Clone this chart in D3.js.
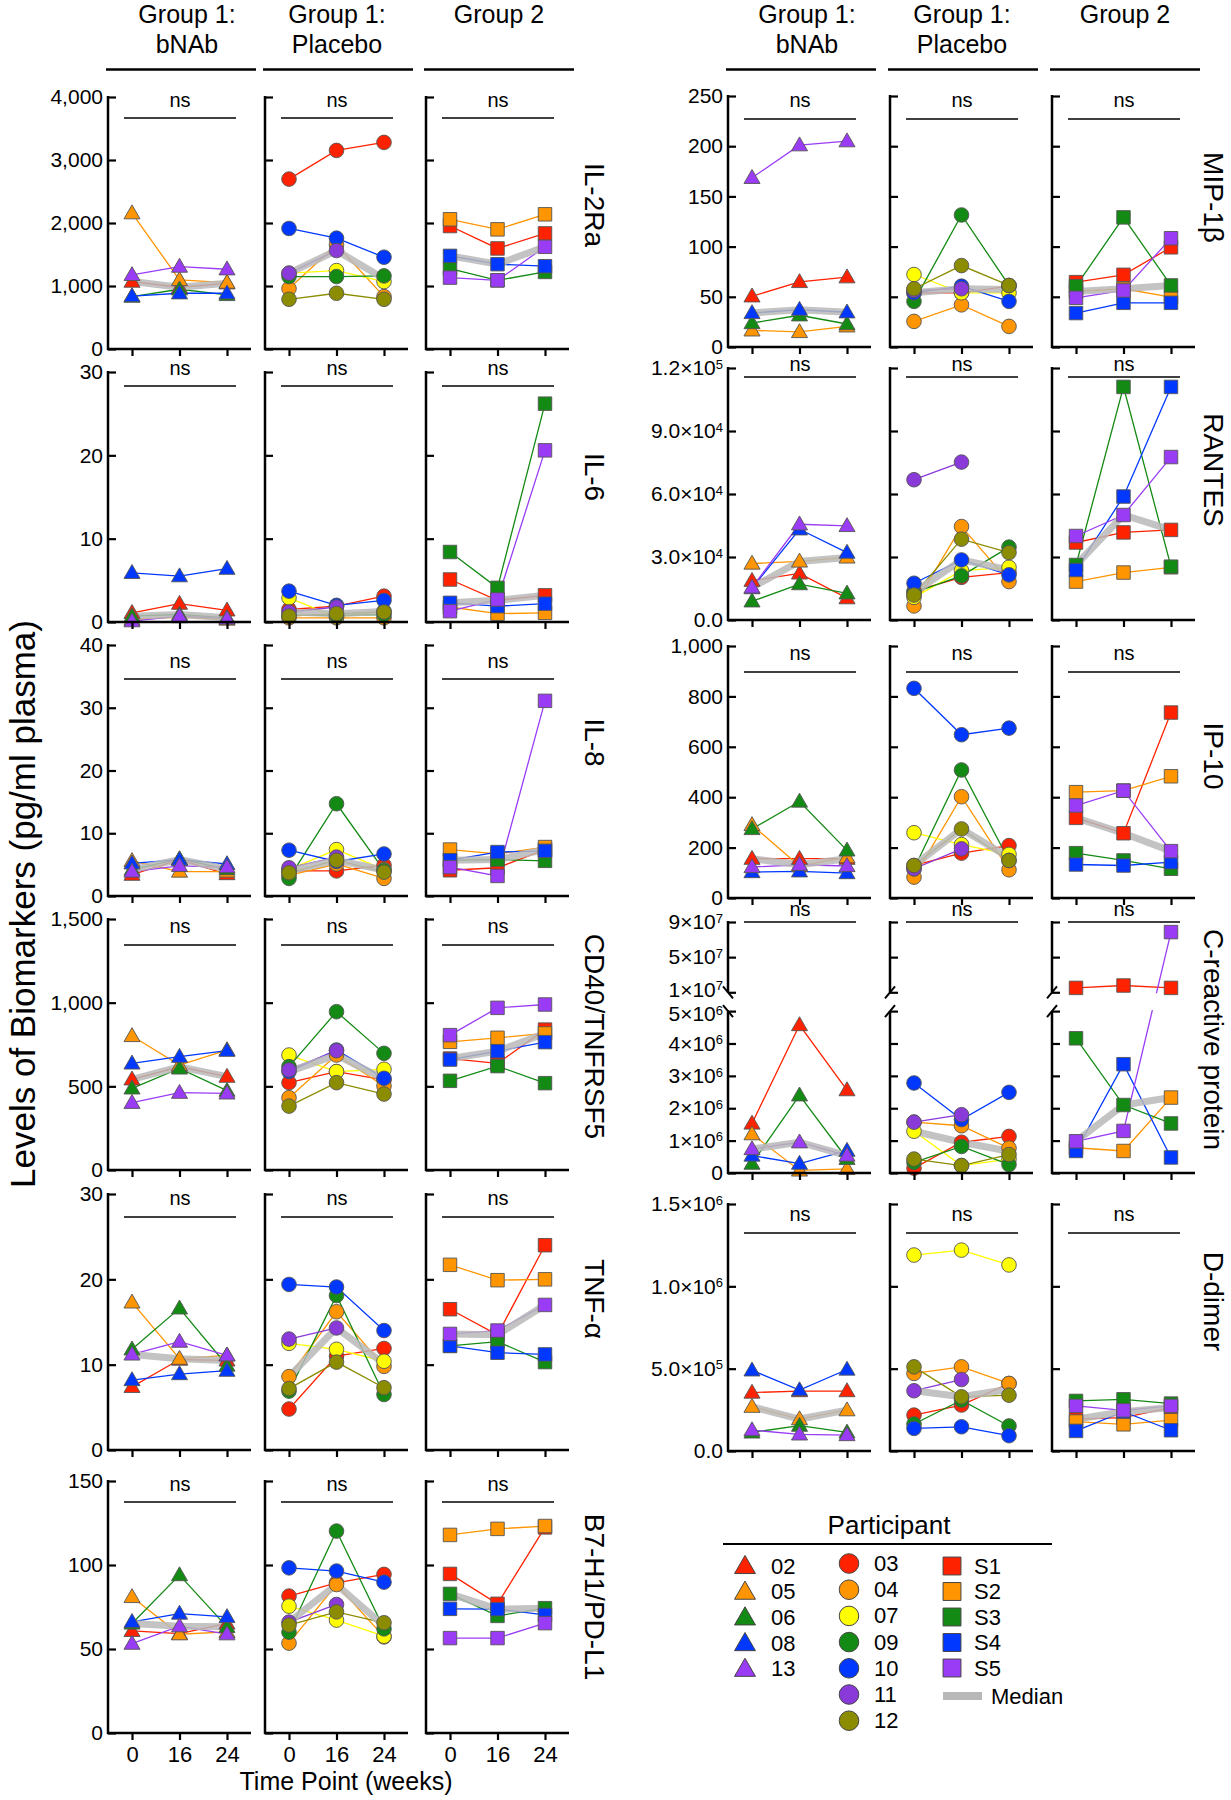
<!DOCTYPE html>
<html><head><meta charset="utf-8">
<script src="https://cdnjs.cloudflare.com/ajax/libs/d3/7.8.5/d3.min.js"></script>
<style>
body{margin:0;background:#fff}
text{font-family:"Liberation Sans",Arial,Helvetica,sans-serif;fill:#000}
</style>
</head><body>
<svg id="chart" width="1231" height="1800"></svg>
<script>
// ---------------- DATA ----------------
const timePoints = [0, 16, 24];
const groupTitles = [["Group 1:", "bNAb"], ["Group 1:", "Placebo"], ["Group 2"]];
const bnabIds = ["02", "05", "06", "08", "13"];
const placeboIds = ["03", "04", "07", "09", "10", "11", "12"];
const group2Ids = ["S1", "S2", "S3", "S4", "S5"];
const participantColors = {
  "02": "#ff2200", "05": "#ff9500", "06": "#138a13", "08": "#0038ff", "13": "#9a3cf5",
  "03": "#ff2200", "04": "#ff9500", "07": "#ffff00", "09": "#138a13", "10": "#0038ff", "11": "#8a3ad8", "12": "#8c8c00",
  "S1": "#ff2200", "S2": "#ff9500", "S3": "#138a13", "S4": "#0038ff", "S5": "#9a3cf5"
};
const biomarkerNames = ["IL-2Ra", "IL-6", "IL-8", "CD40/TNFRSF5", "TNF-\u03b1", "B7-H1/PD-L1",
  "MIP-1\u03b2", "RANTES", "IP-10", "C-reactive protein", "D-dimer"];

// values per participant at weeks 0,16,24 (order of the id lists above)
const il2raBnab = [[1070, 980, 1043], [2156, 1097, 1054], [832, 948, 858], [840, 885, 885], [1176, 1308, 1266]];
const il2raPlacebo = [[2697, 3152, 3279], [959, 1653, 832], [1203, 1245, 1070], [1150, 1150, 1160], [1913, 1759, 1457], [1203, 1563, null], [789, 885, 789]];
const il2raGroup2 = [[1952, 1596, 1835], [2059, 1899, 2138], [1276, 1090, 1223], [1478, 1346, 1314], [1133, 1090, 1622]];

const il6Bnab = [[1.1, 2.2, 1.4], [0.3, 0.6, 0.3], [0.7, 0.9, 0.5], [5.9, 5.5, 6.4], [0.1, 0.7, 0.4]];
const il6Placebo = [[1.5, 1.9, 3.1], [0.5, 0.5, 0.5], [2.9, 0.6, 1.3], [0.8, 0.8, 0.9], [3.7, 2.0, 2.6], [1.2, 1.8, null], [0.7, 1.0, 1.2]];
const il6Group2 = [[5.1, 2.6, 3.2], [1.8, 1.0, 1.1], [8.4, 4.1, 26.2], [2.3, 1.9, 2.2], [1.3, 2.7, 20.6]];

const il8Bnab = [[3.4, 5.8, 3.5], [5.6, 3.9, 3.9], [4.2, 5.9, 4.3], [5.2, 5.8, 5.1], [3.9, 4.8, 4.6]];
const il8Placebo = [[4.0, 4.0, 4.9], [3.3, 5.1, 2.8], [4.2, 7.4, 4.2], [2.8, 14.7, 4.1], [7.3, 5.5, 6.7], [4.5, 6.2, null], [3.7, 5.7, 3.8]];
const il8Group2 = [[4.1, 4.5, 7.4], [7.4, 6.7, 7.8], [5.7, 5.8, 5.6], [5.7, 7.0, 7.2], [4.6, 3.2, 31.1]];

const cd40Bnab = [[542, 617, 558], [801, 627, 717], [488, 607, 474], [637, 677, 713], [402, 462, 458]];
const cd40Placebo = [[522, 588, 538], [432, 687, 502], [687, 588, 602], [618, 946, 697], [588, 717, 548], [598, 713, null], [382, 522, 454]];
const cd40Group2 = [[666, 637, 839], [766, 790, 816], [533, 621, 519], [660, 710, 764], [806, 969, 989]];

const tnfBnab = [[7.4, 10.6, 10.5], [17.3, 10.7, 11.1], [11.8, 16.6, 9.9], [8.2, 8.9, 9.3], [11.2, 12.7, 11.1]];
const tnfPlacebo = [[4.8, 11.0, 11.9], [8.6, 16.2, 9.8], [12.5, 11.8, 10.4], [6.9, 18.1, 6.5], [19.4, 19.1, 14.0], [13.0, 14.3, null], [7.2, 10.3, 7.3]];
const tnfGroup2 = [[16.5, 13.5, 24.0], [21.7, 19.9, 20.0], [12.2, 12.7, 10.3], [12.2, 11.4, 11.2], [13.6, 14.0, 17.0]];

const b7Bnab = [[60.8, 59.2, 65.2], [81, 58.8, 60.2], [65.2, 94, 63.2], [66.2, 71.1, 69.1], [53.2, 63.6, 58.8]];
const b7Placebo = [[81.5, 89.4, 94.4], [53.5, 88.4, 57.2], [75.5, 67.2, 57.6], [60, 120.2, 62], [98.3, 96.4, 89.8], [66, 76.5, null], [64.2, 72.1, 65.6]];
const b7Group2 = [[94.7, 76.9, 122.4], [117.9, 121.5, 123.2], [82.8, 69.7, 74.3], [73.9, 73.7, 70.3], [56.5, 56.5, 65.4]];

const mipBnab = [[50.5, 64.8, 69.5], [16.6, 15, 20.6], [23.9, 31.6, 22.9], [33.9, 37.2, 34.6], [168.5, 201, 205]];
const mipPlacebo = [[54, 54, 60.6], [25.5, 42, 20.5], [72.2, 54, 54], [45.4, 131.5, 61.3], [54, 60.6, 45.4], [56.3, 58, null], [58, 81.1, 61.3]];
const mipGroup2 = [[64.6, 71.9, 99.3], [55.3, 58, 49.7], [60.6, 129.1, 61.3], [33.8, 44, 44], [49, 56.3, 108.3]];

const rantesBnab = [[18700, 22200, 10400], [26900, 27900, 29800], [8900, 17100, 12700], [15200, 43200, 32100], [15500, 45600, 44800]];
const rantesPlacebo = [[13700, 20300, 22600], [6700, 44500, 18300], [10800, 23500, 25100], [13000, 21000, 34700], [17500, 28600, 21500], [66800, 75200, null], [11900, 38500, 32100]];
const rantesGroup2 = [[36900, 41700, 42900], [18300, 22600, 25100], [26200, 111000, 25400], [23800, 58800, 111000], [40000, 50000, 77600]];

const ip10Bnab = [[156, 156, 156], [290, 127, 162], [274, 383, 189], [103, 106, 99], [123, 132, 127]];
const ip10Placebo = [[129, 178, 208], [83, 402, 112], [259, 212, 173], [116, 508, 149], [832, 648, 674], [116, 195, null], [129, 274, 149]];
const ip10Group2 = [[318, 257, 736], [420, 426, 483], [178, 149, 116], [133, 129, 142], [367, 426, 186]];

const crpBnab = [[1.53e6, 4.57e6, 2.56e6], [1.2e6, 0.08e6, 0.13e6], [0.29e6, 2.4e6, 0.44e6], [0.54e6, 0.29e6, 0.69e6], [0.74e6, 0.95e6, 0.54e6]];
const crpPlacebo = [[0.15e6, 0.95e6, 1.13e6], [1.57e6, 1.46e6, 0.77e6], [1.29e6, 0.23e6, 0.43e6], [0.33e6, 0.82e6, 0.26e6], [2.78e6, 1.65e6, 2.49e6], [1.57e6, 1.8e6, null], [0.43e6, 0.23e6, 0.57e6]];
const crpGroup2 = [[1.5e7, 1.77e7, 1.5e7], [0.78e6, 0.68e6, 2.33e6], [4.16e6, 2.1e6, 1.53e6], [0.68e6, 3.36e6, 0.48e6], [0.98e6, 1.3e6, 7.85e7]];

const ddimerBnab = [[3.55e5, 3.64e5, 3.64e5], [2.69e5, 1.94e5, 2.48e5], [1.13e5, 1.54e5, 1.13e5], [4.9e5, 3.7e5, 4.95e5], [1.27e5, 1.01e5, 0.97e5]];
const ddimerPlacebo = [[2.18e5, 2.79e5, 4.1e5], [4.71e5, 5.11e5, 4.1e5], [1.19e6, 1.22e6, 1.13e6], [1.64e5, 3.09e5, 1.52e5], [1.37e5, 1.47e5, 0.93e5], [3.66e5, 4.34e5, null], [5.11e5, 3.29e5, 3.39e5]];
const ddimerGroup2 = [[1.93e5, 2.03e5, 2.64e5], [1.79e5, 1.62e5, 1.87e5], [3.04e5, 3.14e5, 2.88e5], [1.22e5, 2.39e5, 1.26e5], [2.74e5, 2.47e5, 2.74e5]];

// tick values and labels
const il2raTicks = [0, 1000, 2000, 3000, 4000];
const il2raTickLabels = ["0", "1,000", "2,000", "3,000", "4,000"];
const il6Ticks = [0, 10, 20, 30];
const il6TickLabels = ["0", "10", "20", "30"];
const il8Ticks = [0, 10, 20, 30, 40];
const il8TickLabels = ["0", "10", "20", "30", "40"];
const cd40Ticks = [0, 500, 1000, 1500];
const cd40TickLabels = ["0", "500", "1,000", "1,500"];
const tnfTicks = [0, 10, 20, 30];
const tnfTickLabels = ["0", "10", "20", "30"];
const b7Ticks = [0, 50, 100, 150];
const b7TickLabels = ["0", "50", "100", "150"];
const mipTicks = [0, 50, 100, 150, 200, 250];
const mipTickLabels = ["0", "50", "100", "150", "200", "250"];
const rantesTicks = [0, 30000, 60000, 90000, 120000];
const rantesTickLabels = ["0.0", "3.0\u00d710^4", "6.0\u00d710^4", "9.0\u00d710^4", "1.2\u00d710^5"];
const ip10Ticks = [0, 200, 400, 600, 800, 1000];
const ip10TickLabels = ["0", "200", "400", "600", "800", "1,000"];
const crpTicks = [0, 1e6, 2e6, 3e6, 4e6, 5e6, 1e7, 5e7, 9e7];
const crpTickLabels = ["0", "1\u00d710^6", "2\u00d710^6", "3\u00d710^6", "4\u00d710^6", "5\u00d710^6", "1\u00d710^7", "5\u00d710^7", "9\u00d710^7"];
const crpBreak = [5e6, 1e7];
const ddimerTicks = [0, 5e5, 1e6, 1.5e6];
const ddimerTickLabels = ["0.0", "5.0\u00d710^5", "1.0\u00d710^6", "1.5\u00d710^6"];
const timeTickLabels = ["0", "16", "24"];

// ---------------- LAYOUT ----------------
const leftAxisX = [108, 265, 426];
const rightAxisX = [728, 890, 1052];
const panelW = 143;
const tickStart = 24, tickEnd = 119;
const crpFrac = [0.645, 0.72];
const breakLabelShift = [3, -3]; // nudge of the two labels either side of the axis break

const rows = [
  { col: "L", top: 97, bottom: 349, data: [il2raBnab, il2raPlacebo, il2raGroup2], ticks: il2raTicks, labels: il2raTickLabels, ns: 21, nsGap: 11, labelDy: -18 },
  { col: "L", top: 372, bottom: 622, data: [il6Bnab, il6Placebo, il6Group2], ticks: il6Ticks, labels: il6TickLabels, ns: 14, nsGap: 11, labelDy: -20 },
  { col: "L", top: 645, bottom: 896, data: [il8Bnab, il8Placebo, il8Group2], ticks: il8Ticks, labels: il8TickLabels, ns: 34, nsGap: 11, labelDy: -28 },
  { col: "L", top: 919, bottom: 1170, data: [cd40Bnab, cd40Placebo, cd40Group2], ticks: cd40Ticks, labels: cd40TickLabels, ns: 26, nsGap: 12, labelDy: -8 },
  { col: "L", top: 1194, bottom: 1450, data: [tnfBnab, tnfPlacebo, tnfGroup2], ticks: tnfTicks, labels: tnfTickLabels, ns: 23, nsGap: 12, labelDy: -23 },
  { col: "L", top: 1481, bottom: 1733, data: [b7Bnab, b7Placebo, b7Group2], ticks: b7Ticks, labels: b7TickLabels, ns: 21, nsGap: 11, labelDy: -10, xLabels: true },
  { col: "R", top: 96, bottom: 347, data: [mipBnab, mipPlacebo, mipGroup2], ticks: mipTicks, labels: mipTickLabels, ns: 23, nsGap: 12, labelDy: -24 },
  { col: "R", top: 368, bottom: 620, data: [rantesBnab, rantesPlacebo, rantesGroup2], ticks: rantesTicks, labels: rantesTickLabels, ns: 9, nsGap: 6, labelDy: -24 },
  { col: "R", top: 646, bottom: 898, data: [ip10Bnab, ip10Placebo, ip10Group2], ticks: ip10Ticks, labels: ip10TickLabels, ns: 26, nsGap: 12, labelDy: -16 },
  { col: "R", top: 922, bottom: 1173, data: [crpBnab, crpPlacebo, crpGroup2], ticks: crpTicks, labels: crpTickLabels, ns: 0, nsGap: 6, labelDy: -8, breakAt: crpBreak },
  { col: "R", top: 1204, bottom: 1451, data: [ddimerBnab, ddimerPlacebo, ddimerGroup2], ticks: ddimerTicks, labels: ddimerTickLabels, ns: 29, nsGap: 12, labelDy: -26 }
];

const groupIds = [bnabIds, placeboIds, group2Ids];
const groupShapes = [d3.symbolTriangle, d3.symbolCircle, d3.symbolSquare];
const markerSizes = [112, 168, 182];

const svg = d3.select("#chart");

function setLabel(textSel, str) {
  textSel.text(null);
  const parts = str.split("^");
  textSel.append("tspan").text(parts[0]);
  if (parts.length > 1) {
    textSel.append("tspan").attr("font-size", 13).attr("dy", "-0.5em").text(parts[1]);
  }
}

// ---------------- HEADERS ----------------
const headerDx = [6, -1, 0];
[leftAxisX, rightAxisX].forEach(axes => {
  axes.forEach((x0, gi) => {
    const cx = x0 + 73 + headerDx[gi];
    groupTitles[gi].forEach((t, li) => {
      svg.append("text").attr("x", cx).attr("y", li === 0 ? 23 : 53)
        .attr("text-anchor", "middle").attr("font-size", 25).text(t);
    });
    svg.append("line").attr("x1", x0 - 2).attr("x2", x0 + 148).attr("y1", 69.5).attr("y2", 69.5)
      .attr("stroke", "#000").attr("stroke-width", 2.5);
  });
});

// ---------------- PANELS ----------------
rows.forEach((row, ri) => {
  const axes = row.col === "L" ? leftAxisX : rightAxisX;
  const maxV = row.ticks[row.ticks.length - 1];
  let y;
  if (row.breakAt) {
    const h = row.bottom - row.top;
    y = d3.scaleLinear().domain([0, row.breakAt[0], row.breakAt[1], maxV])
      .range([row.bottom, row.bottom - h * crpFrac[0], row.bottom - h * crpFrac[1], row.top]);
  } else {
    y = d3.scaleLinear().domain([0, maxV]).range([row.bottom, row.top]);
  }

  axes.forEach((x0, gi) => {
    const g = svg.append("g");
    const x = d3.scalePoint().domain(timePoints).range([x0 + tickStart, x0 + tickEnd]);
    const series = row.data[gi];
    const ids = groupIds[gi];
    const line = d3.line().defined(d => d.v != null).x(d => x(d.t)).y(d => y(d.v));

    // participant lines
    series.forEach((vals, pi) => {
      const pts = vals.map((v, ti) => ({ t: timePoints[ti], v: v }));
      g.append("path").attr("d", line(pts)).attr("fill", "none")
        .attr("stroke", participantColors[ids[pi]]).attr("stroke-width", 1.3);
    });
    // median
    const med = timePoints.map((t, ti) => ({ t: t, v: d3.median(series, s => s[ti]) }));
    g.append("path").attr("d", line(med)).attr("fill", "none")
      .attr("stroke", "#b8b8b8").attr("stroke-width", 7).attr("stroke-opacity", 0.85);

    // break mask
    if (row.breakAt) {
      const yb1 = y(row.breakAt[1]), yb0 = y(row.breakAt[0]);
      g.append("rect").attr("x", x0 + 2).attr("width", panelW).attr("y", yb1 + 1)
        .attr("height", yb0 - yb1 - 2).attr("fill", "#fff");
    }

    // markers
    series.forEach((vals, pi) => {
      vals.forEach((v, ti) => {
        if (v == null) return;
        g.append("path").attr("d", d3.symbol(groupShapes[gi], markerSizes[gi])())
          .attr("transform", `translate(${x(timePoints[ti])},${y(v) + (gi === 0 ? 1 : 0)})`)
          .attr("fill", participantColors[ids[pi]]).attr("stroke", "#555").attr("stroke-width", 0.9);
      });
    });

    // y axis ticks (inward) + labels on first panel
    const yAxis = d3.axisLeft(y).tickValues(row.ticks).tickSize(-8).tickSizeOuter(0).tickPadding(5)
      .tickFormat((d, i) => gi === 0 ? row.labels[i] : "");
    const ya = g.append("g").attr("transform", `translate(${x0},0)`).call(yAxis);
    ya.select(".domain").remove();
    ya.selectAll(".tick line").attr("stroke", "#000").attr("stroke-width", 2.2);
    ya.selectAll(".tick text").attr("font-size", 21).attr("font-family", null)
      .each(function (d, i) {
        if (gi !== 0) return;
        const t = d3.select(this);
        setLabel(t, row.labels[i]);
        if (row.breakAt) {
          if (d === row.breakAt[0]) t.attr("y", breakLabelShift[0]);
          if (d === row.breakAt[1]) t.attr("y", breakLabelShift[1]);
        }
      });

    // axis lines
    if (row.breakAt) {
      const yb1 = y(row.breakAt[1]), yb0 = y(row.breakAt[0]);
      g.append("line").attr("x1", x0).attr("x2", x0).attr("y1", row.top - 1).attr("y2", yb1)
        .attr("stroke", "#000").attr("stroke-width", 2.5);
      g.append("line").attr("x1", x0).attr("x2", x0).attr("y1", yb0).attr("y2", row.bottom + 1)
        .attr("stroke", "#000").attr("stroke-width", 2.5);
      [yb1, yb0].forEach(yb => {
        const s = gi === 0 ? 1 : -1;
        g.append("line").attr("x1", x0 - 5).attr("x2", x0 + 5)
          .attr("y1", yb - 6 * s).attr("y2", yb + 6 * s)
          .attr("stroke", "#000").attr("stroke-width", 2);
      });
    } else {
      g.append("line").attr("x1", x0).attr("x2", x0).attr("y1", row.top - 1).attr("y2", row.bottom + 1)
        .attr("stroke", "#000").attr("stroke-width", 2.5);
    }
    g.append("line").attr("x1", x0 - 1).attr("x2", x0 + panelW).attr("y1", row.bottom).attr("y2", row.bottom)
      .attr("stroke", "#000").attr("stroke-width", 2.5);

    // x axis ticks
    const xAxis = d3.axisBottom(x).tickSize(7).tickSizeOuter(0).tickPadding(6)
      .tickFormat((d, i) => row.xLabels ? timeTickLabels[i] : "");
    const xa = g.append("g").attr("transform", `translate(0,${row.bottom})`).call(xAxis);
    xa.select(".domain").remove();
    xa.selectAll(".tick line").attr("stroke", "#000").attr("stroke-width", 2.2);
    xa.selectAll(".tick text").attr("font-size", 22).attr("font-family", null);

    // ns bracket
    const nsY = row.top + row.ns;
    const nx1 = x0 + tickStart - 8, nx2 = x0 + tickEnd + 9;
    g.append("line").attr("x1", nx1).attr("x2", nx2).attr("y1", nsY).attr("y2", nsY)
      .attr("stroke", "#000").attr("stroke-width", 1.6);
    g.append("text").attr("x", (nx1 + nx2) / 2).attr("y", nsY - row.nsGap)
      .attr("text-anchor", "middle").attr("font-size", 20).text("ns");
  });

  // row label
  const lx = row.col === "L" ? 594 : 1213;
  const ly = (row.top + row.bottom) / 2 + row.labelDy;
  svg.append("text").attr("transform", `translate(${lx},${ly}) rotate(90)`)
    .attr("text-anchor", "middle").attr("dominant-baseline", "central")
    .attr("font-size", 28).text(biomarkerNames[ri]);
});

// axis titles
svg.append("text").attr("transform", "translate(35,904) rotate(-90)")
  .attr("text-anchor", "middle").attr("font-size", 35).text("Levels of Biomarkers (pg/ml plasma)");
svg.append("text").attr("x", 346).attr("y", 1790).attr("text-anchor", "middle")
  .attr("font-size", 25).text("Time Point (weeks)");

// ---------------- LEGEND ----------------
const lg = svg.append("g");
lg.append("text").attr("x", 889).attr("y", 1534).attr("text-anchor", "middle")
  .attr("font-size", 26).text("Participant");
lg.append("line").attr("x1", 723).attr("x2", 1052).attr("y1", 1544).attr("y2", 1544)
  .attr("stroke", "#000").attr("stroke-width", 2);
const legendCols = [
  { ids: bnabIds, x: 745, tx: 771, y0: 1566, step: 25.7, size: 190 },
  { ids: placeboIds, x: 849, tx: 874, y0: 1563.5, step: 26.2, size: 300 },
  { ids: group2Ids, x: 952, tx: 974, y0: 1566, step: 25.5, size: 320 }
];
legendCols.forEach((c, gi) => {
  c.ids.forEach((id, i) => {
    const yy = c.y0 + i * c.step;
    lg.append("path").attr("d", d3.symbol(groupShapes[gi], c.size)())
      .attr("transform", `translate(${c.x},${yy + (gi === 0 ? 1.5 : 0)})`)
      .attr("fill", participantColors[id]).attr("stroke", "#444").attr("stroke-width", 1);
    lg.append("text").attr("x", c.tx).attr("y", yy).attr("dominant-baseline", "central")
      .attr("font-size", 22).text(id);
  });
});
lg.append("line").attr("x1", 943).attr("x2", 982).attr("y1", 1696).attr("y2", 1696)
  .attr("stroke", "#b8b8b8").attr("stroke-width", 8);
lg.append("text").attr("x", 991).attr("y", 1696).attr("dominant-baseline", "central")
  .attr("font-size", 22).text("Median");
</script>
</body></html>
